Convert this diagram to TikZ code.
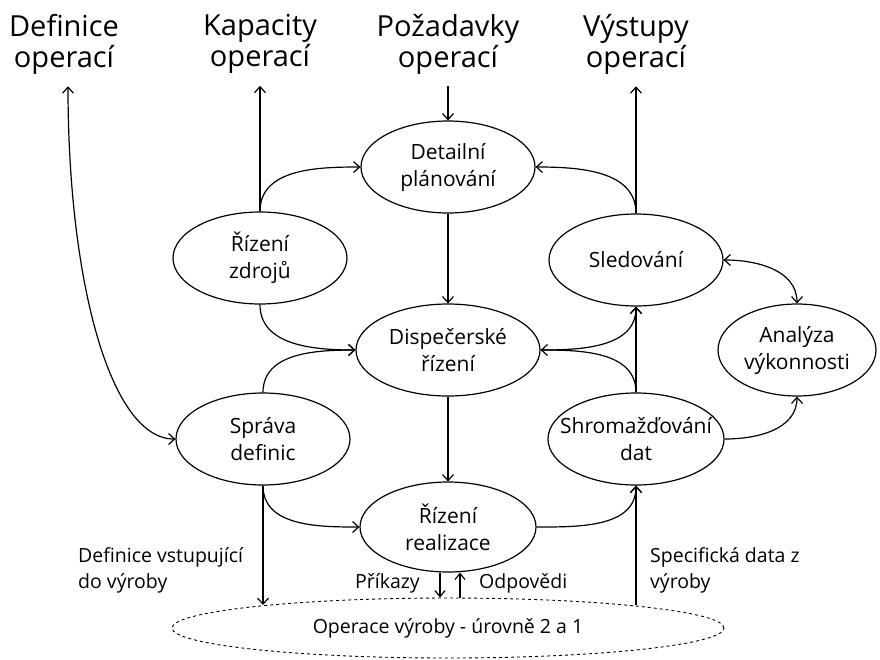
\documentclass[tikz,border=0pt]{standalone}
\usepackage{fontspec}
\setmainfont{Open Sans}
\usetikzlibrary{arrows.meta,shapes.geometric}
\begin{document}
\begin{tikzpicture}[x=1pt,y=-1pt,
  proc/.style={draw, ellipse, line width=1.2pt, minimum width=174pt, minimum height=92pt,
    inner sep=0pt, align=center, font=\fontsize{21}{27}\selectfont},
  toplabel/.style={align=center, inner sep=0pt, font=\fontsize{29}{31}\selectfont},
  note/.style={align=left, inner sep=0pt, font=\fontsize{19.5}{26}\selectfont},
  flow/.style={line width=1.2pt, -{Straight Barb[length=6pt,width=11pt]}},
  bothflow/.style={line width=1.2pt, {Straight Barb[length=6pt,width=11pt]}-{Straight Barb[length=6pt,width=11pt]}},
  small/.style={line width=1.2pt, -{Straight Barb[length=6pt,width=10pt]}}]
\useasboundingbox (0,0) rectangle (880,659);

% top-level labels
\node[toplabel] (ldef) at (64,44) {Definice\\operací};
\node[toplabel] (lkap) at (260,44) {Kapacity\\operací};
\node[toplabel] (lpoz) at (448,44) {Požadavky\\operací};
\node[toplabel] (lvys) at (636,44) {Výstupy\\operací};

% functions
\node[proc] (dp) at (448,167) {Detailní\\plánování};
\node[proc] (rz) at (260,258) {Řízení\\zdrojů};
\node[proc] (sl) at (636,260) {Sledování};
\node[proc, minimum width=184pt] (ds) at (448,350) {Dispečerské\\řízení};
\node[proc, minimum width=158pt] (an) at (797,350) {Analýza\\výkonnosti};
\node[proc] (sd) at (263,439) {Správa\\definic};
\node[proc, minimum width=176pt, inner xsep=-17pt] (sh) at (636,439) {Shromažďování\\dat};
\node[proc, minimum width=176pt, minimum height=90pt] (rr) at (448,527) {Řízení\\realizace};

% production level
\node[draw, ellipse, dashed, line width=0.9pt, minimum width=552pt, minimum height=60pt,
  inner sep=0pt, font=\fontsize{19.5}{22}\selectfont] (op) at (448,628) {Operace výroby - úrovně 2 a 1};
\coordinate (opL) at (263,605);
\coordinate (opR) at (636,605);

% links to the top labels
\draw[bothflow] ([shift={(4,12)}]ldef.south)
  .. controls (68,280) and (110,439) .. (sd.west);
\draw[flow] (rz.north) -- ([shift={(0,12)}]lkap.south);
\draw[flow] ([shift={(0,12)}]lpoz.south) -- (dp.north);
\draw[flow] (sl.north) -- ([shift={(0,12)}]lvys.south);

% planning loop
\draw[flow] (rz.north) to[out=90,in=180] (dp.west);
\draw[flow] (sl.north) to[out=90,in=0] (dp.east);
\draw[flow] (dp.south) -- (ds.north);
\draw[flow] (rz.south) to[out=-90,in=180] (ds.west);
\draw[flow] (sd.north) to[out=90,in=180] (ds.west);
\draw[flow] (sh.north) to[out=90,in=0] (ds.east);
\draw[flow] (ds.east) to[out=0,in=-90] (sl.south);
\draw[flow] (sh.north) -- (sl.south);
\draw[bothflow] (sl.east) to[out=0,in=90] (an.north);
\draw[flow] (sh.east) to[out=0,in=-90] (an.south);
\draw[flow] (ds.south) -- (rr.north);
\draw[flow] (sd.south) to[out=-90,in=180] (rr.west);
\draw[flow] (rr.east) to[out=0,in=-90] (sh.south);

% exchange with production
\draw[flow] (sd.south) -- (opL);
\draw[flow] (opR) -- (sh.south);
\draw[small] ([xshift=-8pt]rr.south) -- ([xshift=-8pt]op.north);
\draw[small] ([xshift=12pt]op.north) -- ([xshift=12pt]rr.south);

\node[note, anchor=west] (tdef) at (78,570) {Definice vstupující\\do výroby};
\node[note, anchor=west] (tspec) at (650,570) {Specifická data z\\výroby};
\node[note, anchor=east] (tpri) at (420,583) {Příkazy};
\node[note, anchor=west] (todp) at (479,583) {Odpovědi};
\end{tikzpicture}
\end{document}
